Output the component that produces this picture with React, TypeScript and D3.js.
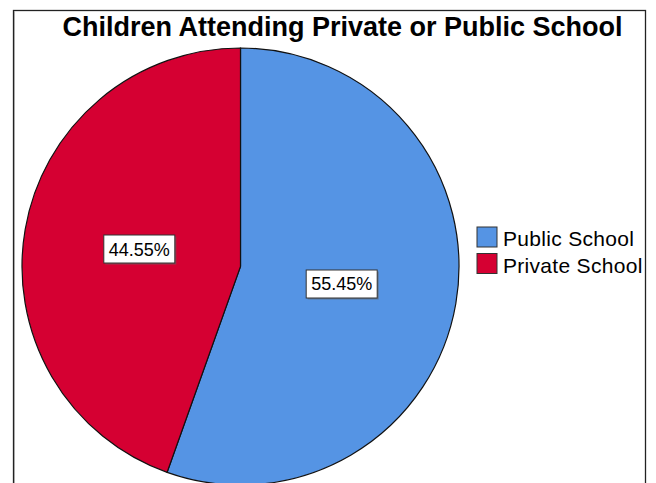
import React from "react";
import * as d3 from "d3";

const categories = ["Public School", "Private School"];
const percents = [55.45, 44.55];
const colors = ["#5594E4", "#D50032"];
const title = "Children Attending Private or Public School";

export default function App() {
  const W = 656, H = 483;
  const cx = 240.5, cy = 266.5, r = 218.5;
  const pie = d3.pie<number>().sort(null).value((d) => d)(percents);
  const arc = d3.arc<d3.PieArcDatum<number>>().innerRadius(0).outerRadius(r);
  const labelArc = d3.arc<d3.PieArcDatum<number>>().innerRadius(r * 0.47).outerRadius(r * 0.47);
  const font = "'Liberation Sans', Arial, sans-serif";
  return (
    <svg width={W} height={H} style={{ position: "absolute", left: 0, top: 0, background: "#fff" }}>
      <rect x={0} y={0} width={W} height={H} fill="#fff" />
      <rect x={13.5} y={10.5} width={632} height={500} fill="none" stroke="#222" strokeWidth={1.3} />
      <line x1={14.5} y1={11} x2={14.5} y2={H} stroke="#aaa" strokeWidth={1} />
      <text x={342.5} y={36} textAnchor="middle" fontFamily={font} fontWeight="bold" fontSize={27} fill="#000">
        {title}
      </text>
      <g transform={`translate(${cx},${cy})`}>
        {pie.map((p, i) => (
          <path key={i} d={arc(p) || ""} fill={colors[i]} stroke="#111" strokeWidth={1.2} />
        ))}
        {pie.map((p, i) => {
          const [lx, ly] = labelArc.centroid(p);
          const w = 71, h = 28;
          return (
            <g key={"l" + i} transform={`translate(${lx},${ly})`}>
              <rect x={-w / 2 + 1.5} y={-h / 2 + 1.5} width={w} height={h} fill="#666" opacity={0.6} />
              <rect x={-w / 2} y={-h / 2} width={w} height={h} fill="#fff" stroke="#333" strokeWidth={1} />
              <text x={0} y={6.5} textAnchor="middle" fontFamily={font} fontSize={18} fill="#000">
                {percents[i].toFixed(2) + "%"}
              </text>
            </g>
          );
        })}
      </g>
      <g>
        {categories.map((c, i) => (
          <g key={c} transform={`translate(477,${227 + i * 26.5})`}>
            <rect x={0} y={0} width={20} height={20} fill={colors[i]} stroke="#333" strokeWidth={1} />
            <text x={26} y={19} fontFamily={font} fontSize={21} letterSpacing={0.3} fill="#000">
              {c}
            </text>
          </g>
        ))}
      </g>
    </svg>
  );
}
